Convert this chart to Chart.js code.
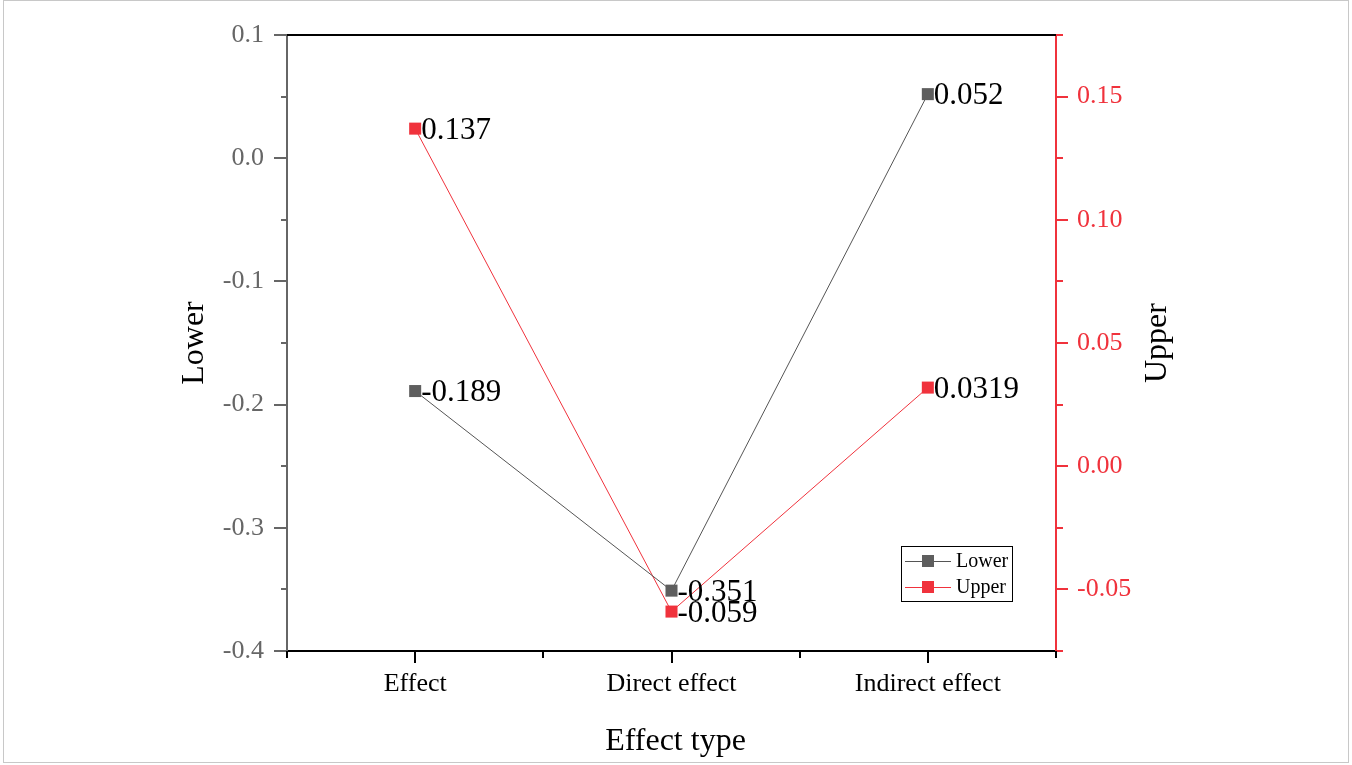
<!DOCTYPE html>
<html>
<head>
<meta charset="utf-8">
<script src="https://cdn.jsdelivr.net/npm/chart.js@4.4.1/dist/chart.umd.min.js"></script>
<style>
html,body{margin:0;padding:0;background:#fff;overflow:hidden;}
canvas{display:block;}
</style>
</head>
<body>
<canvas id="c" width="1352" height="765"></canvas>
<script>
const categories = ['Effect', 'Direct effect', 'Indirect effect'];
const lowerValues = [-0.189, -0.351, 0.052];
const upperValues = [0.137, -0.059, 0.0319];
const lowerLabels = ['-0.189', '-0.351', '0.052'];
const upperLabels = ['0.137', '-0.059', '0.0319'];
const leftTicks = [-0.4, -0.3, -0.2, -0.1, 0.0, 0.1];
const leftMinor = [-0.35, -0.25, -0.15, -0.05, 0.05];
const rightTicks = [-0.05, 0.0, 0.05, 0.10, 0.15];
const rightMinor = [-0.075, -0.025, 0.025, 0.075, 0.125, 0.175];
const xTicks = [1, 2, 3];
const xMinor = [0.5, 1.5, 2.5, 3.5];

const FONT = '"Liberation Serif", "Times New Roman", serif';
const GRAY = '#5e5e5e';
const AXGRAY = '#666666';
const RED = '#f0323c';

const tickPlugin = {
  id: 'ticksAndDecor',
  afterDraw(chart) {
    const ctx = chart.ctx;
    const ca = chart.chartArea;
    const y = chart.scales.y, y1 = chart.scales.y1, x = chart.scales.x;
    ctx.save();
    ctx.lineWidth = 2;
    // top frame line
    ctx.strokeStyle = '#000';
    ctx.beginPath(); ctx.moveTo(ca.left - 1, ca.top); ctx.lineTo(ca.right, ca.top); ctx.stroke();
    // left ticks
    ctx.strokeStyle = AXGRAY;
    leftTicks.forEach(v => { const p = Math.round(y.getPixelForValue(v)); ctx.beginPath(); ctx.moveTo(ca.left - 13, p); ctx.lineTo(ca.left, p); ctx.stroke(); });
    leftMinor.forEach(v => { const p = Math.round(y.getPixelForValue(v)); ctx.beginPath(); ctx.moveTo(ca.left - 6, p); ctx.lineTo(ca.left, p); ctx.stroke(); });
    // right ticks
    ctx.strokeStyle = RED;
    rightTicks.forEach(v => { const p = Math.round(y1.getPixelForValue(v)); ctx.beginPath(); ctx.moveTo(ca.right, p); ctx.lineTo(ca.right + 12, p); ctx.stroke(); });
    rightMinor.forEach(v => { const p = Math.round(y1.getPixelForValue(v)); ctx.beginPath(); ctx.moveTo(ca.right, p); ctx.lineTo(ca.right + 7, p); ctx.stroke(); });
    // bottom ticks
    ctx.strokeStyle = '#000';
    xTicks.forEach(v => { const p = Math.round(x.getPixelForValue(v)); ctx.beginPath(); ctx.moveTo(p, ca.bottom); ctx.lineTo(p, ca.bottom + 12); ctx.stroke(); });
    xMinor.forEach(v => { const p = Math.round(x.getPixelForValue(v)); ctx.beginPath(); ctx.moveTo(p, ca.bottom); ctx.lineTo(p, ca.bottom + 7); ctx.stroke(); });

    // axis titles
    ctx.fillStyle = '#000';
    ctx.font = '32px ' + FONT;
    ctx.textAlign = 'center';
    ctx.textBaseline = 'middle';
    ctx.fillText('Effect type', (ca.left + ca.right) / 2 + 4, 742);
    ctx.save(); ctx.translate(195, (ca.top + ca.bottom) / 2); ctx.rotate(-Math.PI / 2); ctx.fillText('Lower', 0, 0); ctx.restore();
    ctx.save(); ctx.translate(1158, (ca.top + ca.bottom) / 2); ctx.rotate(-Math.PI / 2); ctx.fillText('Upper', 0, 0); ctx.restore();

    // data labels
    ctx.font = '31px ' + FONT;
    ctx.textAlign = 'left';
    ctx.textBaseline = 'middle';
    const labelSets = [lowerLabels, upperLabels];
    chart.data.datasets.forEach((ds, di) => {
      const meta = chart.getDatasetMeta(di);
      meta.data.forEach((pt, i) => {
        ctx.fillText(labelSets[di][i], pt.x + 6, pt.y + 2);
      });
    });

    // legend
    const lx = 901, ly = 546, lw = 111, lh = 55;
    ctx.strokeStyle = '#000'; ctx.lineWidth = 1;
    ctx.strokeRect(lx + 0.5, ly + 0.5, lw, lh);
    ctx.font = '20px ' + FONT;
    chart.data.datasets.forEach((ds, di) => {
      const yy = ly + 15 + di * 26;
      ctx.strokeStyle = ds.borderColor; ctx.lineWidth = 1;
      ctx.beginPath(); ctx.moveTo(lx + 4, yy + 0.5); ctx.lineTo(lx + 50, yy + 0.5); ctx.stroke();
      ctx.fillStyle = ds.pointBackgroundColor;
      ctx.fillRect(lx + 21, yy - 6, 12, 12);
      ctx.fillStyle = '#000';
      ctx.fillText(ds.label, lx + 55, yy + 1);
    });

    // outer frame
    ctx.strokeStyle = '#c8c8c8'; ctx.lineWidth = 1;
    ctx.strokeRect(3.5, 0.5, 1345, 762);
    ctx.restore();
  }
};

new Chart(document.getElementById('c'), {
  type: 'line',
  data: {
    datasets: [
      {
        label: 'Lower',
        yAxisID: 'y',
        data: lowerValues.map((v, i) => ({ x: i + 1, y: v })),
        borderColor: '#555555',
        borderWidth: 1,
        pointStyle: 'rect',
        pointRadius: 8.5,
        pointBackgroundColor: GRAY,
        pointBorderWidth: 0,
        pointBorderColor: GRAY,
        tension: 0
      },
      {
        label: 'Upper',
        yAxisID: 'y1',
        data: upperValues.map((v, i) => ({ x: i + 1, y: v })),
        borderColor: RED,
        borderWidth: 1,
        pointStyle: 'rect',
        pointRadius: 8.5,
        pointBackgroundColor: RED,
        pointBorderWidth: 0,
        pointBorderColor: RED,
        tension: 0
      }
    ]
  },
  options: {
    responsive: false,
    devicePixelRatio: 1,
    animation: false,
    layout: { padding: { top: 35, left: 0, right: 0, bottom: 0 } },
    plugins: { legend: { display: false }, tooltip: { enabled: false } },
    scales: {
      x: {
        type: 'linear',
        position: 'bottom',
        min: 0.5, max: 3.5,
        afterBuildTicks: s => { s.ticks = xTicks.map(v => ({ value: v })); },
        afterFit: s => { s.height = 114; },
        grid: { display: false },
        border: { display: true, color: '#000', width: 2 },
        ticks: {
          color: '#000',
          font: { family: FONT, size: 26 },
          padding: 10,
          maxRotation: 0,
          autoSkip: false,
          callback: v => categories[Math.round(v) - 1]
        }
      },
      y: {
        type: 'linear',
        position: 'left',
        min: -0.4, max: 0.1,
        afterBuildTicks: s => { s.ticks = leftTicks.map(v => ({ value: v })); },
        afterFit: s => { s.width = 287; },
        grid: { display: false },
        border: { display: true, color: AXGRAY, width: 2 },
        ticks: {
          color: AXGRAY,
          font: { family: FONT, size: 26 },
          padding: 15,
          callback: v => v.toFixed(1)
        }
      },
      y1: {
        type: 'linear',
        position: 'right',
        min: -0.075, max: 0.175,
        afterBuildTicks: s => { s.ticks = rightTicks.map(v => ({ value: v })); },
        afterFit: s => { s.width = 296; },
        grid: { display: false },
        border: { display: true, color: RED, width: 2 },
        ticks: {
          color: RED,
          font: { family: FONT, size: 26 },
          padding: 13,
          callback: v => v.toFixed(2)
        }
      }
    }
  },
  plugins: [tickPlugin]
});
</script>
</body>
</html>
